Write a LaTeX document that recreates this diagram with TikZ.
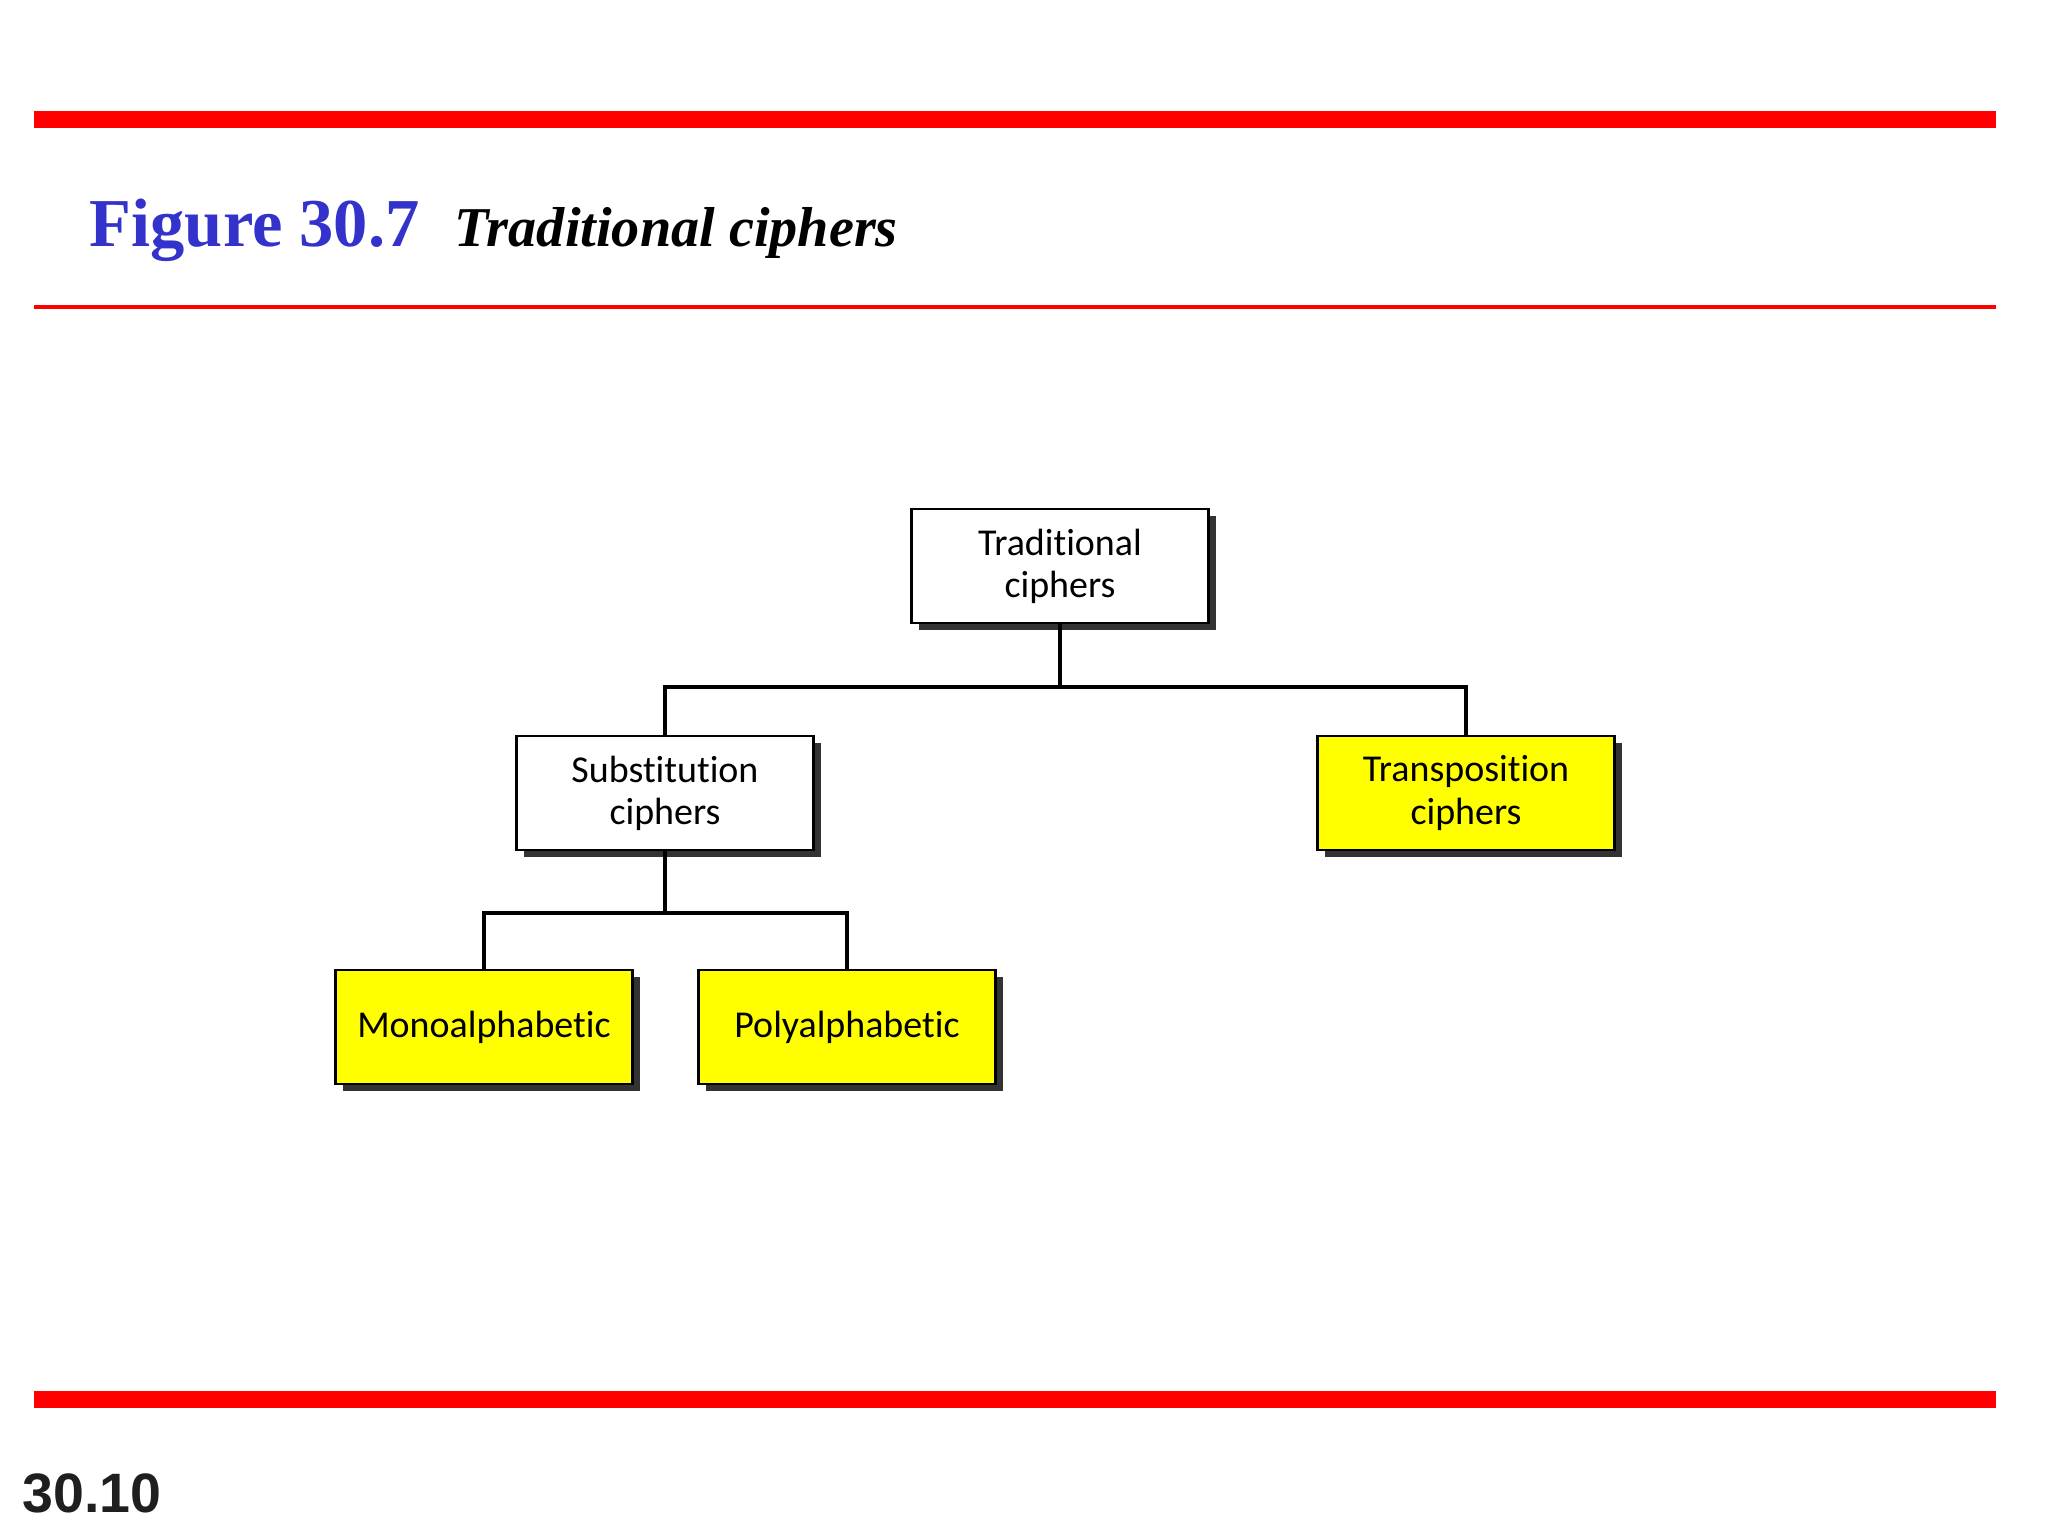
\documentclass[tikz,border=0pt]{standalone}
\usepackage{fontspec}
\setmainfont{Liberation Serif}
\newfontfamily\boxfont[Ligatures=NoCommon]{Carlito}
\newfontfamily\numfont{Liberation Sans}
\usetikzlibrary{shadows}
\definecolor{figblue}{RGB}{51,51,204}
\definecolor{rulered}{RGB}{255,0,0}
\definecolor{boxyellow}{RGB}{255,255,0}

\begin{document}
\begin{tikzpicture}

      \useasboundingbox (0,0) rectangle (20.48,15.36);

      % rules and captions
      \fill[rulered] (0.34,14.08) rectangle (19.96,14.25);
      \fill[rulered] (0.34,12.27) rectangle (19.96,12.31);
      \fill[rulered] (0.34,1.28) rectangle (19.96,1.45);
      \node[anchor=base west,inner sep=0pt,text=figblue,font=\fontsize{19.5}{22}\selectfont\bfseries] (fig) at (0.89,12.89) {Figure 30.7};
      \node[anchor=base west,inner sep=0pt,font=\fontsize{16}{19}\selectfont\bfseries\itshape] (title) at (4.54,12.89) {Traditional ciphers};
      \node[anchor=base west,inner sep=0pt,font=\numfont\fontsize{15.8}{18}\selectfont\bfseries,text=black!88] (page) at (0.22,0.23) {30.10};

      \begin{scope}[every node/.style={rectangle,draw,line width=0.8pt,minimum width=2.97cm,minimum height=1.14cm,
          align=center,font=\boxfont\fontsize{10.8}{12}\selectfont,
          drop shadow={shadow xshift=0.07cm,shadow yshift=-0.07cm,fill=black!80,opacity=1}}]
        \node[fill=white] (trad)   at (10.60,9.70) {Traditional\\ciphers};
        \node[fill=white] (subst)  at (6.65,7.43)  {Substitution\\ciphers};
        \node[fill=boxyellow] (transp) at (14.66,7.43) {Transposition\\ciphers};
        \node[fill=boxyellow] (mono)   at (4.84,5.09)  {Monoalphabetic};
        \node[fill=boxyellow] (poly)   at (8.47,5.09)  {Polyalphabetic};
      \end{scope}

      \coordinate (bus1) at (10.60,8.49);
      \coordinate (bus2) at (6.65,6.23);

      \begin{scope}[line width=1pt]
        \draw (trad.south) -- (bus1);
        \draw (bus1) -| (subst.north);
        \draw (bus1) -| (transp.north);
        \draw (subst.south) -- (bus2);
        \draw (bus2) -| (mono.north);
        \draw (bus2) -| (poly.north);
      \end{scope}

    \end{tikzpicture}
\end{document}
